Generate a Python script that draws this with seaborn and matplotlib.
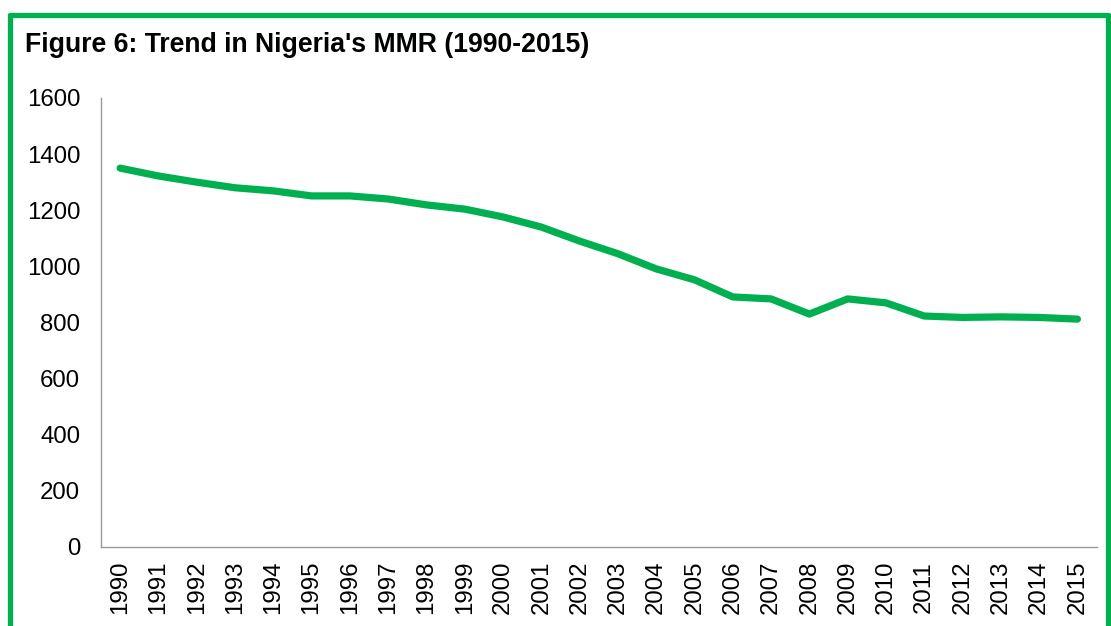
import matplotlib
matplotlib.use("Agg")
import matplotlib.pyplot as plt
import seaborn as sns
import pandas as pd
from matplotlib.lines import Line2D

years = list(range(1990, 2016))
mmr = [1350, 1322, 1300, 1280, 1269, 1251, 1251, 1240, 1219, 1204,
       1176, 1140, 1090, 1045, 991, 952, 891, 884, 830, 884,
       870, 823, 818, 820, 818, 812]

title = "Figure 6: Trend in Nigeria's MMR (1990-2015)"
yticks = [0, 200, 400, 600, 800, 1000, 1200, 1400, 1600]

sns.set_theme(style="white")
plt.rcParams['font.family'] = ['Liberation Sans', 'DejaVu Sans']

df = pd.DataFrame({"year": years, "mmr": mmr})

fig = plt.figure(figsize=(11.11, 6.26), dpi=100)
ax = fig.add_axes([0.0909, 0.1262, 0.8961, 0.7173])

green = "#00B050"
sns.lineplot(data=df, x="year", y="mmr", ax=ax, color=green, linewidth=5.2,
             solid_capstyle="round", solid_joinstyle="round")

ax.set_xlim(years[0] - 0.5, years[-1] + 0.5)
ax.set_ylim(0, 1600)
ax.set_yticks(yticks)
ax.set_yticklabels([str(v) for v in yticks], fontsize=17.3, color="black")
ax.set_xticks(years)
ax.set_xticklabels([str(y) for y in years], rotation=90, fontsize=17.3, color="black")
ax.tick_params(axis="y", length=0, pad=15)
ax.tick_params(axis="x", length=0, pad=10)
ax.set_xlabel("")
ax.set_ylabel("")
for s in ["top", "right"]:
    ax.spines[s].set_visible(False)
for s in ["left", "bottom"]:
    ax.spines[s].set_color("#999999")
    ax.spines[s].set_linewidth(1.0)

fig.text(25 / 1111, 1 - 45 / 626, title, fontsize=19.2, fontweight="bold",
         ha="left", va="center", color="black")

# green border around figure
W, H = 1111, 626
bx0, by0, bx1 = 9.5 / W, 1 - 14.5 / H, 1107.5 / W
for xs, ys in [([bx0, bx0], [-0.05, by0]), ([bx0, bx1], [by0, by0]), ([bx1, bx1], [by0, -0.05])]:
    fig.add_artist(Line2D(xs, ys, transform=fig.transFigure, color=green, linewidth=3.8))

fig.savefig("out.png", dpi=100)
